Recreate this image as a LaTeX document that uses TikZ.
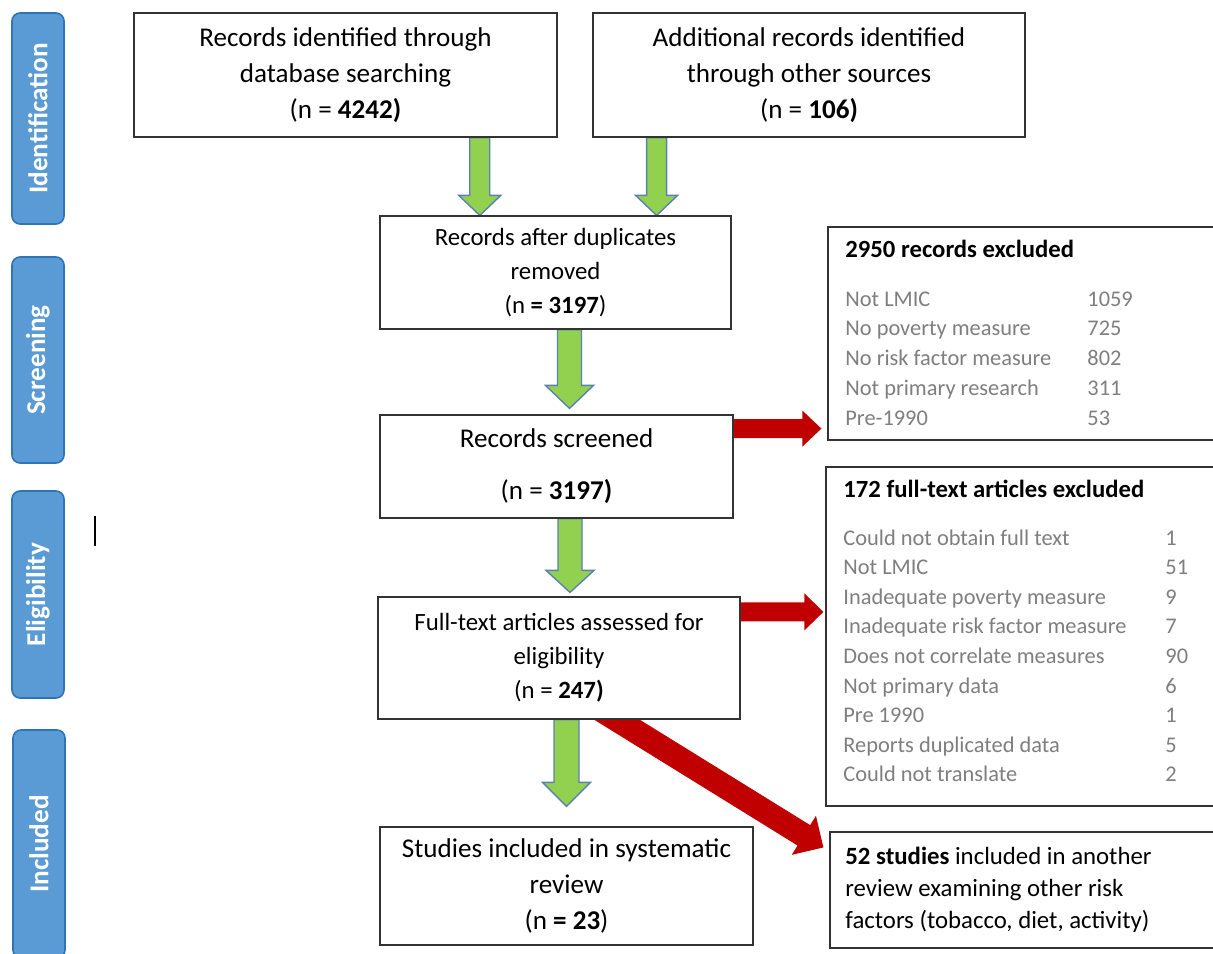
\documentclass[tikz,border=0pt]{standalone}
\usepackage{fontspec}
\setmainfont{Carlito}
\usetikzlibrary{calc,backgrounds}

\definecolor{phaseblue}{HTML}{5B9BD5}
\definecolor{phaseedge}{HTML}{2E75B6}
\definecolor{arrowgreen}{HTML}{92D050}
\definecolor{arrowedge}{HTML}{5A82B0}
\definecolor{arrowred}{HTML}{C00000}
\definecolor{listgray}{HTML}{7F7F7F}

\tikzset{
  phase/.style={draw=phaseedge, fill=phaseblue, line width=0.8pt, rounded corners=4pt,
    rotate=90, minimum height=26pt, inner sep=0pt, text=white,
    font=\fontsize{13.6}{15}\selectfont\bfseries},
  box/.style={draw=black!80, fill=white, line width=0.6pt, align=center, inner sep=0pt,
    font=\fontsize{13.55}{18}\selectfont},
  smallbox/.style={box, font=\fontsize{12.4}{17}\selectfont},
  exbox/.style={draw=black!80, fill=white, line width=0.6pt, inner sep=0pt},
  extitle/.style={anchor=base west, inner sep=0pt, font=\fontsize{12.35}{14}\selectfont\bfseries},
  exitem/.style={anchor=base west, inner sep=0pt, text=listgray, font=\fontsize{11.2}{13}\selectfont},
  greenarrow/.style={fill=arrowgreen, draw=arrowedge, line width=0.7pt},
  redarrow/.style={fill=arrowred, draw=none}
}

% block arrow: style, start, tip, shaft half width, head half width, head length
\newcommand{\blockarrow}[6]{%
  \coordinate (bs) at (#2);
  \coordinate (bt) at (#3);
  \coordinate (bh) at ($(bt)!#6!(bs)$);
  \draw[#1] ($(bs)!#4!90:(bt)$) -- ($(bh)!#4!90:(bt)$) -- ($(bh)!#5!90:(bt)$) -- (bt)
    -- ($(bh)!#5!-90:(bt)$) -- ($(bh)!#4!-90:(bt)$) -- ($(bs)!#4!-90:(bt)$) -- cycle;
}

\begin{document}
\begin{tikzpicture}[x=0.5pt,y=-0.5pt]
  \useasboundingbox (0,0) rectangle (1213,953);

  % phases
  \node[phase, minimum width=105.5pt] (identification) at (38,118.5) {Identification};
  \node[phase, minimum width=103pt] (screening) at (38,360) {Screening};
  \node[phase, minimum width=103.5pt] (eligibility) at (38,594.5) {Eligibility};
  \node[phase, minimum width=114pt] (includedphase) at (39,844) {Included};
  \draw[line width=0.8pt] (95,516) -- (95,546);

  % flow boxes
  \node[box, minimum width=211.5pt, minimum height=62pt] (recA) at (345.5,75)
    {Records identified through\\database searching\\(n = \textbf{4242)}};
  \node[box, minimum width=216pt, minimum height=62pt] (recB) at (809,75)
    {Additional records identified\\through other sources\\(n = \textbf{106)}};
  \node[smallbox, minimum width=175.5pt, minimum height=56.5pt] (dedup) at (555.5,272.5)
    {Records after duplicates\\removed\\(n \textbf{= 3197})};
  \node[box, minimum width=176.5pt, minimum height=51.5pt] (screened) at (556.5,466.5)
    {Records screened\\[8pt](n = \textbf{3197)}};
  \node[smallbox, minimum width=181pt, minimum height=61pt] (fulltext) at (559,658)
    {Full-text articles assessed for\\eligibility\\(n = \textbf{247)}};
  \node[box, minimum width=186.5pt, minimum height=59pt] (included) at (566.5,886)
    {Studies included in systematic\\review\\(n \textbf{= 23})};

  % exclusion boxes
  \node[exbox, minimum width=194pt, minimum height=106.5pt] (excl1) at (1022,333.5) {};
  \node[extitle] (excl1title) at (845,257) {2950 records excluded};
  \foreach \why/\howmany [count=\i] in {Not LMIC/1059, No poverty measure/725,
      No risk factor measure/802, Not primary research/311, Pre-1990/53} {
    \node[exitem] (excl1r\i) at (845,276.25+29.75*\i) {\why};
    \node[exitem] (excl1n\i) at (1087,276.25+29.75*\i) {\howmany};
  }

  \node[exbox, minimum width=195pt, minimum height=169.5pt] (excl2) at (1021,636.5) {};
  \node[extitle] (excl2title) at (843,497) {172 full-text articles excluded};
  \foreach \why/\howmany [count=\i] in {Could not obtain full text/1, Not LMIC/51,
      Inadequate poverty measure/9, Inadequate risk factor measure/7,
      Does not correlate measures/90, Not primary data/6, Pre 1990/1,
      Reports duplicated data/5, Could not translate/2} {
    \node[exitem] (excl2r\i) at (843,515.4+29.6*\i) {\why};
    \node[exitem] (excl2n\i) at (1165,515.4+29.6*\i) {\howmany};
  }

  \node[exbox, minimum width=193pt, minimum height=58pt] (other) at (1023,890) {};
  \node[anchor=west, align=left, inner sep=0pt, font=\fontsize{12.4}{16}\selectfont]
    (othertext) at (845,890)
    {\textbf{52 studies} included in another\\review examining other risk\\factors (tobacco, diet, activity)};

  % arrows
  \coordinate (inA) at ($(dedup.north west)!0.285!(dedup.north east)$);
  \coordinate (inB) at ($(dedup.north west)!0.787!(dedup.north east)$);
  \coordinate (inD) at ($(screened.north)+(13,-6)$);
  \coordinate (inE) at ($(fulltext.north)+(11,-4)$);
  \coordinate (inF) at ($(included.north)+(0,-20)$);
  \coordinate (outG) at ($(excl1.south west)+(-6,-12)$);
  \coordinate (outH) at ($(excl2.north west)+(-2,145.5)$);
  \coordinate (outIstart) at ($(fulltext.south)+(40,-11)$);
  \coordinate (outI) at ($(other.north west)+(-6,16)$);
  \begin{pgfonlayer}{background}
    \fill[white] (0,0) rectangle (1213,953);
    \blockarrow{greenarrow}{recA.south -| inA}{inA}{5pt}{10.5pt}{10pt}
    \blockarrow{greenarrow}{recB.south -| inB}{inB}{5pt}{10.5pt}{10pt}
    \blockarrow{greenarrow}{dedup.south -| inD}{inD}{6pt}{12pt}{11.5pt}
    \blockarrow{greenarrow}{screened.south -| inE}{inE}{6pt}{12pt}{11pt}
    \blockarrow{greenarrow}{fulltext.south -| inF}{inF}{6.25pt}{12pt}{12pt}
    \blockarrow{redarrow}{screened.east |- outG}{outG}{4.75pt}{9pt}{9.5pt}
    \blockarrow{redarrow}{fulltext.east |- outH}{outH}{4.75pt}{9.25pt}{9.5pt}
    \blockarrow{redarrow}{outIstart}{outI}{6pt}{11.5pt}{11.5pt}
  \end{pgfonlayer}
\end{tikzpicture}
\end{document}
